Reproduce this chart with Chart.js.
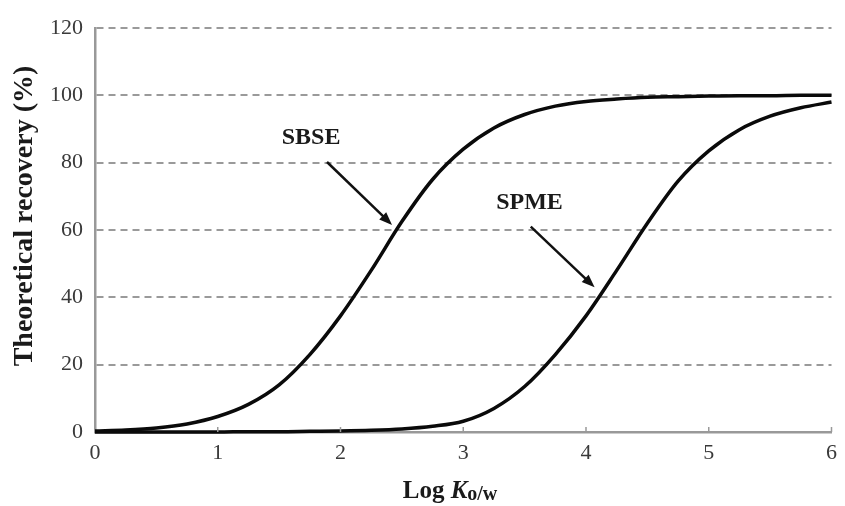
<!DOCTYPE html>
<html>
<head>
<meta charset="utf-8">
<script src="https://cdn.jsdelivr.net/npm/chart.js@4"></script>
<style>
  body { margin: 0; background: #fff; }
  #wrap { width: 845px; height: 506px; }
</style>
</head>
<body>
<div id="wrap"><canvas id="myChart" width="845" height="506"></canvas></div>
<script>
const logK = [0, 0.25, 0.5, 0.75, 1, 1.25, 1.5, 1.75, 2, 2.25, 2.5, 2.75, 3,
  3.25, 3.5, 3.75, 4, 4.25, 4.5, 4.75, 5, 5.25, 5.5, 5.75, 6];
const sbse = [0.3, 0.6, 1.2, 2.4, 4.6, 8.2, 14, 23, 34.5, 48, 62.5, 75, 84,
  90.3, 94.3, 96.8, 98.2, 98.9, 99.4, 99.6, 99.8, 99.9, 99.9, 100, 100];
const spme = [0, 0, 0, 0, 0, 0.1, 0.1, 0.2, 0.3, 0.5, 0.9, 1.7, 3.2,
  7, 13.5, 23, 34.5, 48, 62, 74.5, 83.5, 89.8, 93.8, 96.3, 98];

const seriesNames = ['SBSE', 'SPME'];
// label position and arrow (from -> to), in data units
const notes = [
  { text: 'SBSE', x: 1.76, y: 87.3, from: [1.89, 80.2], to: [2.42, 61.5] },
  { text: 'SPME', x: 3.54, y: 68, from: [3.55, 61], to: [4.07, 43] }
];

const serif = '"Liberation Serif", "Times New Roman", serif';

function pts(ys) {
  return logK.map((x, i) => ({ x: x, y: ys[i] }));
}

const extras = {
  id: 'extras',
  afterDraw(chart) {
    const ctx = chart.ctx;
    const xs = chart.scales.x, ys = chart.scales.y;
    const area = chart.chartArea;

    // small inward ticks on x axis
    ctx.save();
    ctx.strokeStyle = '#999';
    ctx.lineWidth = 1.5;
    for (let v = 1; v <= 6; v++) {
      const px = xs.getPixelForValue(v);
      ctx.beginPath();
      ctx.moveTo(px, area.bottom);
      ctx.lineTo(px, area.bottom - 5);
      ctx.stroke();
    }
    ctx.restore();

    // annotations
    ctx.save();
    ctx.fillStyle = '#1a1a1a';
    ctx.strokeStyle = '#111';
    ctx.font = 'bold 24px ' + serif;
    ctx.textAlign = 'center';
    ctx.textBaseline = 'middle';
    notes.forEach(n => {
      ctx.fillText(n.text, xs.getPixelForValue(n.x), ys.getPixelForValue(n.y));
      const x1 = xs.getPixelForValue(n.from[0]), y1 = ys.getPixelForValue(n.from[1]);
      const x2 = xs.getPixelForValue(n.to[0]), y2 = ys.getPixelForValue(n.to[1]);
      const a = Math.atan2(y2 - y1, x2 - x1);
      const hl = 13, hw = 5;
      ctx.lineWidth = 2.5;
      ctx.beginPath();
      ctx.moveTo(x1, y1);
      ctx.lineTo(x2 - Math.cos(a) * hl * 0.8, y2 - Math.sin(a) * hl * 0.8);
      ctx.stroke();
      ctx.beginPath();
      ctx.moveTo(x2, y2);
      ctx.lineTo(x2 - Math.cos(a) * hl + Math.sin(a) * hw, y2 - Math.sin(a) * hl - Math.cos(a) * hw);
      ctx.lineTo(x2 - Math.cos(a) * hl - Math.sin(a) * hw, y2 - Math.sin(a) * hl + Math.cos(a) * hw);
      ctx.closePath();
      ctx.fillStyle = '#111';
      ctx.fill();
      ctx.fillStyle = '#1a1a1a';
    });
    ctx.restore();

    // y title
    ctx.save();
    ctx.fillStyle = '#1a1a1a';
    ctx.font = 'bold 28px ' + serif;
    ctx.textAlign = 'center';
    ctx.textBaseline = 'middle';
    ctx.translate(25, 216);
    ctx.rotate(-Math.PI / 2);
    ctx.fillText('Theoretical recovery (%)', 0, 0);
    ctx.restore();

    // x title: Log K o/w
    ctx.save();
    ctx.fillStyle = '#1a1a1a';
    ctx.textBaseline = 'alphabetic';
    const f1 = 'bold 25px ' + serif, f2 = 'bold italic 25px ' + serif, f3 = 'bold 20px ' + serif;
    ctx.font = f1; const w1 = ctx.measureText('Log ').width;
    ctx.font = f2; const w2 = ctx.measureText('K').width;
    ctx.font = f3; const w3 = ctx.measureText('o/w').width;
    let x = 450 - (w1 + w2 + w3) / 2;
    const base = 498;
    ctx.font = f1; ctx.fillText('Log ', x, base); x += w1;
    ctx.font = f2; ctx.fillText('K', x, base); x += w2;
    ctx.font = f3; ctx.fillText('o/w', x, base + 2);
    ctx.restore();
  }
};

const config = {
  type: 'scatter',
  data: {
    datasets: [
      { label: seriesNames[0], data: pts(sbse) },
      { label: seriesNames[1], data: pts(spme) }
    ].map(d => Object.assign(d, {
      showLine: true,
      borderColor: '#0a0a0a',
      borderWidth: 3.5,
      pointRadius: 0,
      cubicInterpolationMode: 'monotone',
      clip: 4
    }))
  },
  options: {
    responsive: false,
    animation: false,
    layout: { padding: { left: 0, top: 28, right: 12, bottom: 0 } },
    plugins: { legend: { display: false }, tooltip: { enabled: false } },
    scales: {
      x: {
        type: 'linear', min: 0, max: 6,
        afterFit(scale) { scale.height = 74; },
        ticks: { stepSize: 1, color: '#3a3a3a', font: { family: serif, size: 22 }, padding: 8, maxRotation: 0 },
        grid: { drawOnChartArea: false, drawTicks: false },
        border: { color: '#999', width: 2.5 }
      },
      y: {
        min: 0, max: 120,
        afterFit(scale) { scale.width = 95; },
        ticks: { stepSize: 20, color: '#3a3a3a', font: { family: serif, size: 22 }, padding: 12 },
        grid: {
          color: ctx => ctx.tick && ctx.tick.value === 0 ? 'rgba(0,0,0,0)' : '#9a9a9a',
          lineWidth: 2, drawTicks: false
        },
        border: { color: '#999', width: 2.5, dash: [7, 5] }
      }
    }
  },
  plugins: [extras]
};

const myChart = new Chart(document.getElementById('myChart'), config);
</script>
</body>
</html>
